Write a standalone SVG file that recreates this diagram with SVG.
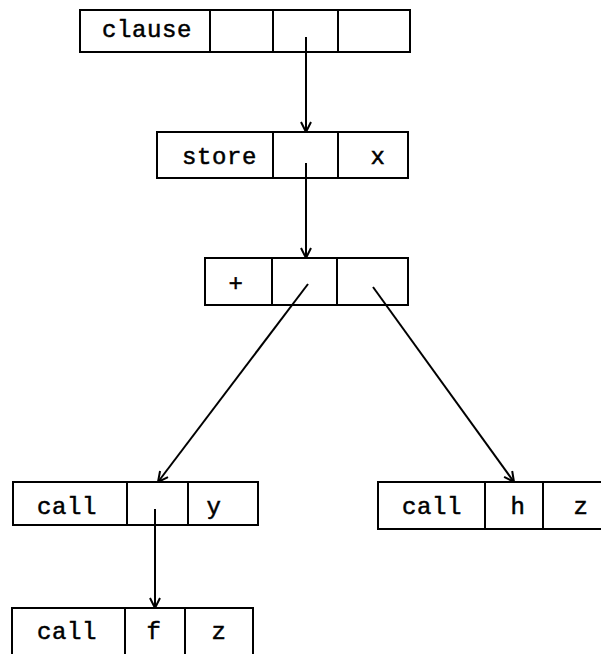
<svg xmlns="http://www.w3.org/2000/svg" width="601" height="654" viewBox="0 0 601 654">
<style>
.box{fill:#fff;stroke:#000;stroke-width:2}
.div{stroke:#000;stroke-width:2}
.t{font-family:"Liberation Mono","DejaVu Sans Mono",monospace;font-size:24px;letter-spacing:0.6px;fill:#000;stroke:#000;stroke-width:0.5}
.c{text-anchor:middle}
.edge{stroke:#000;stroke-width:2;fill:none;marker-end:url(#ah)}
</style>
<defs>
<marker id="ah" viewBox="0 0 12 12" refX="11" refY="6" markerWidth="12" markerHeight="12" markerUnits="userSpaceOnUse" orient="auto">
<path d="M1,1 L11,6 L1,11" fill="none" stroke="#000" stroke-width="2"/>
</marker>
</defs>
<rect width="601" height="654" fill="#fff"/>
<g id="clause">
<rect class="box" x="80" y="10" width="330" height="42"/>
<line class="div" x1="210" y1="10" x2="210" y2="52"/>
<line class="div" x1="273" y1="10" x2="273" y2="52"/>
<line class="div" x1="338" y1="10" x2="338" y2="52"/>
<text class="t" x="102" y="37">clause</text>
</g>
<g id="store">
<rect class="box" x="157" y="132" width="251" height="46"/>
<line class="div" x1="273" y1="132" x2="273" y2="178"/>
<line class="div" x1="338" y1="132" x2="338" y2="178"/>
<text class="t" x="182" y="164">store</text>
<text class="t c" x="378" y="164">x</text>
</g>
<g id="plus">
<rect class="box" x="205" y="258" width="203" height="47"/>
<line class="div" x1="272" y1="258" x2="272" y2="305"/>
<line class="div" x1="337" y1="258" x2="337" y2="305"/>
<text class="t c" x="236" y="291">+</text>
</g>
<g id="call-y">
<rect class="box" x="13" y="482" width="245" height="43"/>
<line class="div" x1="127" y1="482" x2="127" y2="525"/>
<line class="div" x1="188" y1="482" x2="188" y2="525"/>
<text class="t" x="37" y="514">call</text>
<text class="t c" x="214" y="514">y</text>
</g>
<g id="call-h">
<rect class="box" x="378" y="482" width="225" height="47"/>
<line class="div" x1="485" y1="482" x2="485" y2="529"/>
<line class="div" x1="543" y1="482" x2="543" y2="529"/>
<text class="t" x="402" y="514">call</text>
<text class="t c" x="518" y="514">h</text>
<text class="t c" x="581" y="514">z</text>
</g>
<g id="call-f">
<rect class="box" x="12" y="608" width="241" height="50"/>
<line class="div" x1="125" y1="608" x2="125" y2="658"/>
<line class="div" x1="185" y1="608" x2="185" y2="658"/>
<text class="t" x="37" y="639">call</text>
<text class="t c" x="154" y="639">f</text>
<text class="t c" x="219" y="639">z</text>
</g>
<g id="connectors">
<line class="edge" x1="306" y1="37" x2="306" y2="132"/>
<line class="edge" x1="306" y1="163" x2="306" y2="258"/>
<line class="edge" x1="308" y1="284" x2="158" y2="482"/>
<line class="edge" x1="373" y1="287" x2="514" y2="482"/>
<line class="edge" x1="155" y1="509" x2="155" y2="608"/>
</g>
</svg>
